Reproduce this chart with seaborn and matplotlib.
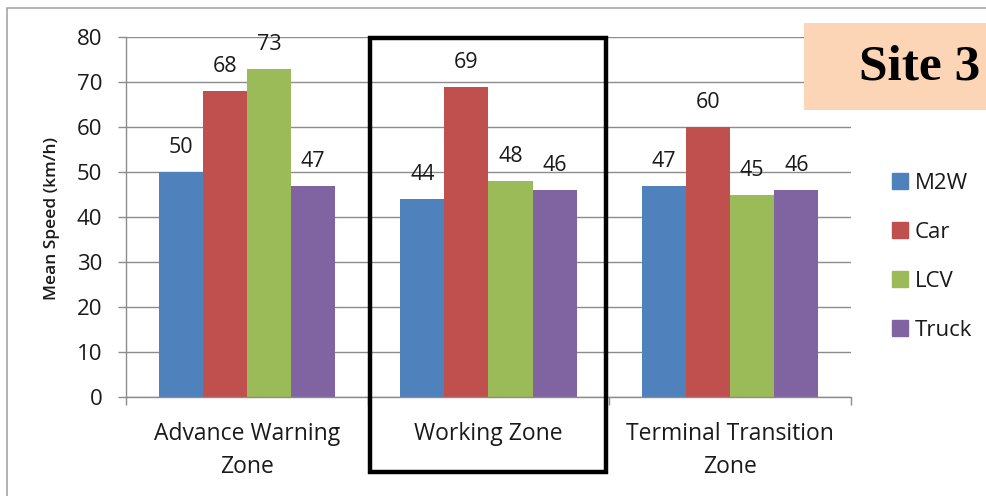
import matplotlib
matplotlib.use("Agg")
import matplotlib.pyplot as plt
from matplotlib.patches import Rectangle
import seaborn as sns
import pandas as pd

zones = ["Advance Warning\nZone", "Working Zone", "Terminal Transition\nZone"]
vehicles = ["M2W", "Car", "LCV", "Truck"]
m2w = [50, 44, 47]
car = [68, 69, 60]
lcv = [73, 48, 45]
truck = [47, 46, 46]
colors = ["#4F81BD", "#C0504D", "#9BBB59", "#8064A2"]

rows = []
for v, vals in zip(vehicles, [m2w, car, lcv, truck]):
    for z, s in zip(zones, vals):
        rows.append({"Zone": z, "Vehicle": v, "Speed": s})
df = pd.DataFrame(rows)

sns.set_theme(style="white")
plt.rcParams["font.family"] = ["Open Sans", "DejaVu Sans"]
text_color = "#1a1a1a"

fig = plt.figure(figsize=(9.87, 4.96), dpi=100)
ax = fig.add_axes([126 / 987, 99 / 496, 725 / 987, 360 / 496])

sns.barplot(data=df, x="Zone", y="Speed", hue="Vehicle", order=zones,
            hue_order=vehicles, palette=colors, width=0.73, gap=0,
            saturation=1, ax=ax, legend=True, linewidth=0)

for cont in ax.containers:
    ax.bar_label(cont, fmt="%d", padding=10, fontsize=15.5, color=text_color)

ax.set_ylim(0, 80)
ax.set_yticks(range(0, 81, 10))
ax.set_xlim(-0.5, 2.5)
ax.yaxis.grid(True, color="#8c8c8c", linewidth=1)
ax.set_axisbelow(True)
for side in ["top", "right"]:
    ax.spines[side].set_visible(False)
for side in ["left", "bottom"]:
    ax.spines[side].set_color("#8c8c8c")
    ax.spines[side].set_linewidth(1)

ax.tick_params(axis="y", which="both", left=True, length=6, width=1,
               color="#8c8c8c", pad=11, labelsize=16, labelcolor=text_color)
ax.set_xticks([0, 1, 2])
ax.set_xticklabels(zones, fontsize=16.5, color=text_color, linespacing=1.5)
ax.tick_params(axis="x", bottom=False, pad=12)
# category separators on the x axis
ax.set_xticks([-0.5, 0.5, 1.5, 2.5], minor=True)
ax.tick_params(axis="x", which="minor", bottom=True, length=6, width=1,
               color="#8c8c8c")
ax.set_xlabel("")
ax.set_ylabel("")
fig.text(52 / 987, 1 - 218 / 496, "Mean Speed (km/h)", rotation=90,
         ha="center", va="center", fontsize=12.5, fontweight="semibold",
         color=text_color)

# legend on the right
ax.get_legend().remove()
handles = [Rectangle((0, 0), 1, 1, color=c) for c in colors]
fig.legend(handles, vehicles, loc="upper left",
           bbox_to_anchor=(872 / 987, 1 - 153 / 496), frameon=False,
           fontsize=16, handlelength=0.72, handleheight=0.72,
           handletextpad=0.3, labelspacing=1.26, labelcolor=text_color)

# outer chart frame
fig.patches.append(Rectangle((7 / 987, -0.05), 1.05, 1 - 8 / 496 + 0.05,
                             transform=fig.transFigure, fill=False,
                             edgecolor="#a6a6a6", linewidth=1.2))

# highlight around the working zone
fig.patches.append(Rectangle((370 / 987, 1 - 472 / 496), 236 / 987, 434 / 496,
                             transform=fig.transFigure, fill=False,
                             edgecolor="black", linewidth=3.2, zorder=10))

# site tag
fig.patches.append(Rectangle((804 / 987, 1 - 110 / 496), 190 / 987, 87 / 496,
                             transform=fig.transFigure, facecolor="#FBD5B5",
                             edgecolor="none", zorder=9))
fig.text(920 / 987, 1 - 68 / 496, "Site 3", ha="center", va="center",
         fontsize=37, fontweight="bold", family=["Liberation Serif"],
         color="black", zorder=11)

fig.savefig("out.png", dpi=100, facecolor="white")
